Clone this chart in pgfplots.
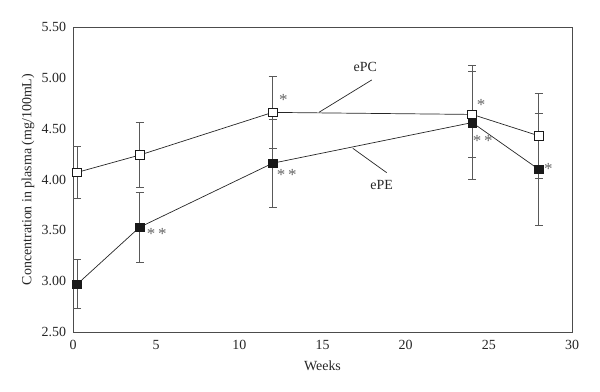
\documentclass[border=0pt]{standalone}
\usepackage{pgfplots}
\pgfplotsset{compat=1.18}
\usepackage{fontspec}
\setmainfont{Liberation Serif}
\pgfplotstableread{
x y e
0.25 4.07 0.26
4 4.24 0.32
12 4.66 0.35
24 4.64 0.42
28 4.43 0.42
}\epc
\pgfplotstableread{
x y e
0.25 2.97 0.24
4 3.53 0.34
12 4.16 0.43
24 4.56 0.56
28 4.10 0.55
}\epe
\begin{document}
\fontsize{14}{16}\selectfont
\begin{tikzpicture}
\begin{axis}[
  scale only axis, width=499bp, height=305bp,
  xmin=0, xmax=30, ymin=2.5, ymax=5.5,
  xtick={0,5,...,30}, ytick={2.5,3,...,5.5},
  major tick length=0pt,
  /pgf/number format/assume math mode=true,
  yticklabel style={/pgf/number format/fixed, /pgf/number format/fixed zerofill, /pgf/number format/precision=2, xshift=-2bp},
  xticklabel style={yshift=-3.5bp},
  tick label style={font=\fontsize{14}{16}\selectfont, text=black!85},
  axis line style={black!70, line width=0.9bp},
  every axis x label/.style={at={(rel axis cs:0.5,0)}, yshift=-33.7bp, anchor=center, font=\fontsize{14}{16}\selectfont, text=black!85},
  every axis y label/.style={at={(rel axis cs:0,0.5)}, xshift=-45bp, rotate=90, anchor=center, font=\fontsize{14}{16}\selectfont, text=black!85},
  xlabel={Weeks}, ylabel={Concentration in plasma (mg/100mL)},
  clip=false,
]
\addplot[black!85, line width=0.7bp, mark=square*, mark size=4.4bp,
  mark options={fill=black!90, draw=black!90, line width=0.6bp},
  error bars/.cd, y dir=both, y explicit,
  error bar style={black!65, line width=0.7bp},
  error mark options={rotate=90, black!65, mark size=4bp, line width=0.7bp}]
  table[x=x, y=y, y error=e] {\epe};
\addplot[black!85, line width=0.7bp, mark=square*, mark size=4.4bp,
  mark options={fill=white, draw=black!90, line width=0.7bp},
  error bars/.cd, y dir=both, y explicit,
  error bar style={black!65, line width=0.7bp},
  error mark options={rotate=90, black!65, mark size=4bp, line width=0.7bp}]
  table[x=x, y=y, y error=e] {\epc};
\draw[black!85, line width=0.7bp] (axis cs:17.96,4.979) -- (axis cs:14.79,4.661);
\draw[black!85, line width=0.7bp] (axis cs:16.82,4.307) -- (axis cs:18.86,4.067);
\node[text=black!85, font=\fontsize{14}{16}\selectfont] at (axis cs:17.57,5.11) {ePC};
\node[text=black!85, font=\fontsize{14}{16}\selectfont] at (axis cs:18.56,3.946) {ePE};
\tikzset{ast/.style={text=black!60, font=\fontsize{17}{19}\selectfont, inner sep=0pt}}
\node[ast] at (axis cs:12.64,4.78) {*};
\node[ast] at (axis cs:12.85,4.04) {*\,*};
\node[ast] at (axis cs:5.03,3.46) {*\,*};
\node[ast] at (axis cs:24.53,4.73) {*};
\node[ast] at (axis cs:24.63,4.38) {*\,*};
\node[ast] at (axis cs:28.58,4.10) {*};
\end{axis}
\pgfresetboundingbox
\path[use as bounding box] (current axis.south west) ++(-73bp,-60bp) rectangle ([shift={(28bp,27bp)}]current axis.north east);
\end{tikzpicture}
\end{document}
